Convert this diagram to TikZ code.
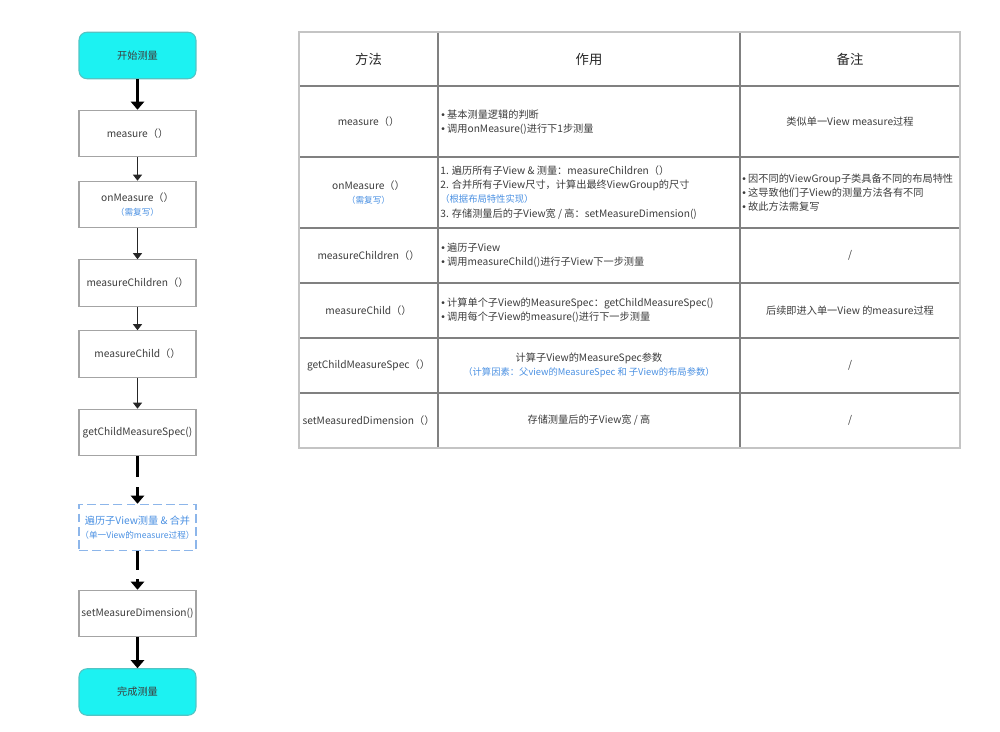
\documentclass[tikz,border=0pt]{standalone}
\usepackage{fontspec}
\setmainfont{Noto Sans CJK SC}
\newfontfamily\bulletfont{Liberation Sans}
\usepackage{xcolor}
\usepackage{tikz}
\usetikzlibrary{arrows.meta}
\definecolor{textgrey}{HTML}{3C3C3C}
\definecolor{noteblue}{HTML}{4A90E2}
\definecolor{startcyan}{HTML}{1CF2F2}
\definecolor{cyanedge}{HTML}{52C4C4}
\definecolor{boxgrey}{HTML}{A4A4A4}
\definecolor{loopblue}{HTML}{8DB6EA}
\definecolor{gridgrey}{HTML}{808080}
\definecolor{framegrey}{HTML}{C4C4C4}
\newcommand{\cellfont}{\fontsize{5.8}{8.1}\selectfont}
\newcommand{\notefont}{\fontsize{4.9}{8.1}\selectfont}
\newcommand{\tnotefont}{\fontsize{5.3}{8.1}\selectfont}
\newcommand{\headfont}{\fontsize{7.6}{9}\selectfont}
\newcommand{\bul}{{\bulletfont •}\ }

\begin{document}
\begin{tikzpicture}[x=0.02cm, y=-0.02cm, font=\cellfont, text=textgrey,
  flowbox/.style={draw=boxgrey, line width=0.6pt, minimum width=2.34cm,
    minimum height=0.93cm, inner sep=0pt, align=center},
  termbox/.style={flowbox, fill=startcyan, draw=cyanedge, rounded corners=4.5pt},
  loopbox/.style={flowbox, draw=loopblue, dash pattern=on 5pt off 2.5pt, text=noteblue},
  thickflow/.style={-{Triangle[width=7.5pt,length=4.6pt]}, line width=1.3pt, black},
  thinflow/.style={-{Triangle[width=5.2pt,length=3.5pt]}, line width=0.7pt, black!85},
  gridline/.style={draw=gridgrey, line width=0.9pt},
  cell/.style={inner sep=0pt, align=center},
  lcell/.style={inner sep=0pt, align=left, anchor=west},
  head/.style={inner sep=0pt, font=\headfont, text=black!85}]
  % picture in pixel units: 1000 x 732, y grows downwards
  \useasboundingbox (0,0) rectangle (1000,732);

  % ===== flow chart (left) =====
  \node[termbox] (start)     at (137.5,55.5)  {开始测量};
  \node[flowbox] (measure)   at (137.5,133.5) {measure（）};
  \node[flowbox] (onmeasure) at (137.5,204.5) {onMeasure（）\\\textcolor{noteblue}{\notefont（需复写）}};
  \node[flowbox] (children)  at (137.5,283)   {measureChildren（）};
  \node[flowbox] (child)     at (137.5,354)   {measureChild（）};
  \node[flowbox] (spec)      at (137.5,432.5) {getChildMeasureSpec()};
  \node[loopbox] (traverse)  at (137.5,527.5) {遍历子View测量 \& 合并\\{\notefont（单一View的measure过程）}};
  \node[flowbox] (setdim)    at (137.5,613.5) {setMeasureDimension()};
  \node[termbox] (finish)    at (137.5,692)   {完成测量};

  \draw[thickflow] (start) -- (measure);
  \draw[thinflow] (measure) -- (onmeasure);
  \draw[thinflow] (onmeasure) -- (children);
  \draw[thinflow] (children) -- (child);
  \draw[thinflow] (child) -- (spec);
  % broken arrows around the loop step
  \draw[thickflow, dash pattern=on 12pt off 5.7pt] (spec) -- (traverse);
  \draw[thickflow, dash pattern=on 10.8pt off 5pt] (traverse) -- (setdim);
  \draw[thickflow] (setdim) -- (finish);

  % ===== table (right) =====
  \foreach \y in {86,157,228,283,338,393}
    \draw[gridline] (299,\y) -- (960,\y);
  \foreach \x in {438,740}
    \draw[gridline] (\x,32) -- (\x,448);
  \draw[framegrey, line width=0.7pt] (299,32) rectangle (960,448);

  % header row
  \node[head] (hmethod) at (368.5,59) {方法};
  \node[head] (hrole)   at (589,59)   {作用};
  \node[head] (hnote)   at (850,59)   {备注};

  % method column
  \node[cell] (m1) at (368.5,121.5) {measure（）};
  \node[cell] (m2) at (368.5,192.5) {onMeasure（）\\\textcolor{noteblue}{\notefont（需复写）}};
  \node[cell] (m3) at (368.5,255.5) {measureChildren（）};
  \node[cell] (m4) at (368.5,310.5) {measureChild（）};
  \node[cell] (m5) at (368.5,365.5) {getChildMeasureSpec（）};
  \node[cell] (m6) at (368.5,420.5) {setMeasuredDimension（）};

  % role column
  \node[lcell] (r1) at (441,122)   {\bul 基本测量逻辑的判断\\\bul 调用onMeasure()进行下1步测量};
  \node[lcell] (r2) at (440,192.5) {1. 遍历所有子View \& 测量：measureChildren（）\\
    2. 合并所有子View尺寸，计算出最终ViewGroup的尺寸\\
    \textcolor{noteblue}{\tnotefont（根据布局特性实现）}\\
    3. 存储测量后的子View宽 / 高：setMeasureDimension()};
  \node[lcell] (r3) at (441,255.5) {\bul 遍历子View\\\bul 调用measureChild()进行子View下一步测量};
  \node[lcell] (r4) at (441,310.5) {\bul 计算单个子View的MeasureSpec：getChildMeasureSpec()\\\bul 调用每个子View的measure()进行下一步测量};
  \node[cell]  (r5) at (589,365.5) {计算子View的MeasureSpec参数\\
    \textcolor{noteblue}{\tnotefont（计算因素：父view的MeasureSpec 和 子View的布局参数）}};
  \node[cell]  (r6) at (589,420.5) {存储测量后的子View宽 / 高};

  % note column
  \node[cell]  (n1) at (850,121.5) {类似单一View measure过程};
  \node[lcell] (n2) at (742,192.5) {\bul 因不同的ViewGroup子类具备不同的布局特性\\\bul 这导致他们子View的测量方法各有不同\\\bul 故此方法需复写};
  \node[cell]  (n3) at (850,255.5) {/};
  \node[cell]  (n4) at (850,310.5) {后续即进入单一View 的measure过程};
  \node[cell]  (n5) at (850,365.5) {/};
  \node[cell]  (n6) at (850,420.5) {/};
\end{tikzpicture}
\end{document}
